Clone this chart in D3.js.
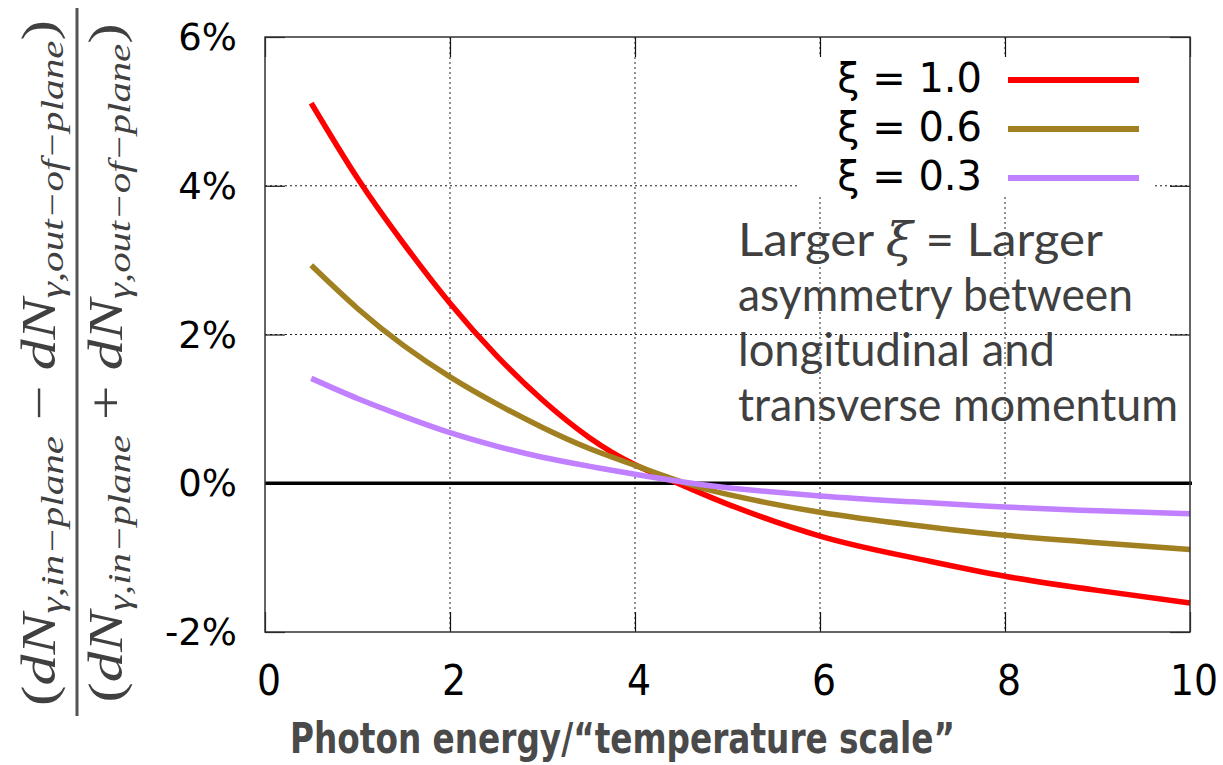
<!DOCTYPE html>
<html>
<head>
<meta charset="utf-8">
<script src="https://cdn.jsdelivr.net/npm/d3@7"></script>
<style>
  body { margin: 0; background: #fff; }
  svg { display: block; }
</style>
</head>
<body>
<div id="chart"></div>
<script>
// データ（図から読み取った値, %）
var energy = [0.5, 1, 1.5, 2, 2.5, 3, 3.5, 4, 4.5, 5, 6, 7, 8, 9, 10];
var xi10 = [5.11, 4.10, 3.22, 2.42, 1.72, 1.12, 0.62, 0.25, -0.02, -0.28, -0.71, -1.00, -1.25, -1.44, -1.61];
var xi06 = [2.93, 2.35, 1.85, 1.43, 1.07, 0.75, 0.47, 0.24, 0.02, -0.15, -0.39, -0.56, -0.70, -0.80, -0.89];
var xi03 = [1.41, 1.14, 0.90, 0.68, 0.50, 0.35, 0.23, 0.12, 0.02, -0.06, -0.17, -0.25, -0.32, -0.37, -0.41];

var seriesNames = ['ξ = 1.0', 'ξ = 0.6', 'ξ = 0.3'];
var seriesColors = ['#ff0000', '#a08020', '#c080ff'];
var seriesValues = [xi10, xi06, xi03];

var xTicks = [0, 2, 4, 6, 8, 10];
var yTicks = [-2, 0, 2, 4, 6];

var noteLines = ['Larger ', 'asymmetry between', 'longitudinal and', 'transverse momentum'];

// SVGの大きさ
var width = 1223;
var height = 765;
var margin = { top: 37, right: 33, bottom: 133, left: 265 };
var w = width - margin.left - margin.right;
var h = height - margin.top - margin.bottom;

var svg = d3.select('#chart').append('svg')
  .attr('width', width).attr('height', height);

var g = svg.append('g')
  .attr('transform', 'translate(' + margin.left + ',' + margin.top + ')');

// スケール
var xScale = d3.scaleLinear().domain([0, 10]).range([0, w]);
var yScale = d3.scaleLinear().domain([-2, 6]).range([h, 0]);

// グリッド線（点線）
var grid = g.append('g').attr('class', 'grid');
grid.selectAll('.vg').data(xTicks.filter(function(d) { return d > 0 && d < 10; }))
  .enter().append('line')
  .attr('x1', function(d) { return xScale(d); }).attr('x2', function(d) { return xScale(d); })
  .attr('y1', 0).attr('y2', h)
  .attr('stroke', '#222').attr('stroke-width', 1).attr('stroke-dasharray', '2,3');
grid.selectAll('.hg').data(yTicks.filter(function(d) { return d > -2 && d < 6 && d !== 0; }))
  .enter().append('line')
  .attr('y1', function(d) { return yScale(d); }).attr('y2', function(d) { return yScale(d); })
  .attr('x1', 0).attr('x2', w)
  .attr('stroke', '#222').attr('stroke-width', 1).attr('stroke-dasharray', '2,3');

// 凡例の背景（グリッドを隠す）
g.append('rect')
  .attr('x', 532).attr('y', 19).attr('width', 355).attr('height', 139)
  .attr('fill', '#fff');

// 軸（目盛りは内向き、上下左右）
var tickLen = 20;
var xAxisB = d3.axisBottom(xScale).tickValues(xTicks).tickSize(-tickLen).tickFormat('');
var xAxisT = d3.axisTop(xScale).tickValues(xTicks).tickSize(-tickLen).tickFormat('');
var yAxisL = d3.axisLeft(yScale).tickValues(yTicks).tickSize(-tickLen).tickFormat('');
var yAxisR = d3.axisRight(yScale).tickValues(yTicks).tickSize(-tickLen).tickFormat('');

g.append('g').attr('transform', 'translate(0,' + h + ')').call(xAxisB);
g.append('g').call(xAxisT);
g.append('g').call(yAxisL);
g.append('g').attr('transform', 'translate(' + w + ',0)').call(yAxisR);
g.selectAll('.domain').remove();
g.selectAll('.tick line').attr('stroke', '#111').attr('stroke-width', 1.2);

// 目盛りラベル
g.selectAll('.xlab').data(xTicks).enter().append('text')
  .attr('x', function(d) { return xScale(d) + 4; })
  .attr('y', h + 63)
  .attr('text-anchor', 'middle')
  .style('font-family', '"DejaVu Sans Condensed", "DejaVu Sans", sans-serif')
  .style('font-stretch', 'condensed')
  .style('font-size', '42px')
  .attr('fill', '#000')
  .text(function(d) { return d; });

g.selectAll('.ylab').data(yTicks).enter().append('text')
  .attr('x', -28)
  .attr('y', function(d) { return yScale(d) + 13; })
  .attr('text-anchor', 'end')
  .style('font-family', '"DejaVu Sans", sans-serif')
  .style('font-size', '37px')
  .attr('fill', '#000')
  .text(function(d) { return d + '%'; });

// ゼロ線
g.append('line')
  .attr('x1', 0).attr('x2', w + 2)
  .attr('y1', yScale(0)).attr('y2', yScale(0))
  .attr('stroke', '#000').attr('stroke-width', 3.5);

// ライン関数
var line = d3.line()
  .x(function(d, i) { return xScale(energy[i]); })
  .y(function(d) { return yScale(d); })
  .curve(d3.curveNatural);

// 注釈テキスト
var noteLengths = [365, 395, 317, 440];
var note = g.append('g').attr('fill', '#404040')
  .style('font-family', 'Lato, "Open Sans", sans-serif')
  .style('font-size', '46px');
noteLines.forEach(function(s, i) {
  var t = note.append('text')
    .attr('x', 473)
    .attr('y', 219 + i * 55)
    .attr('textLength', noteLengths[i])
    .attr('lengthAdjust', 'spacingAndGlyphs');
  if (i === 0) {
    t.append('tspan').text('Larger ');
    t.append('tspan').style('font-family', '"DejaVu Serif", serif').style('font-style', 'italic').text('ξ');
    t.append('tspan').text(' = Larger');
  } else {
    t.text(s);
  }
});

// 曲線
g.selectAll('.curve').data(seriesValues).enter().append('path')
  .attr('d', line)
  .attr('fill', 'none')
  .attr('stroke', function(d, i) { return seriesColors[i]; })
  .attr('stroke-width', 5.5);

// 枠
g.append('rect')
  .attr('x', 0).attr('y', 0).attr('width', w).attr('height', h)
  .attr('fill', 'none').attr('stroke', '#333').attr('stroke-width', 1.5);

// 凡例
var legend = g.append('g');
seriesNames.forEach(function(name, i) {
  var y = 41 + i * 49;
  legend.append('text')
    .attr('x', 717).attr('y', y + 14)
    .attr('text-anchor', 'end')
    .style('font-family', '"DejaVu Sans", sans-serif')
    .style('font-size', '40px')
    .attr('fill', '#000')
    .text(name);
  legend.append('line')
    .attr('x1', 743).attr('x2', 874)
    .attr('y1', y + 2).attr('y2', y + 2)
    .attr('stroke', seriesColors[i]).attr('stroke-width', 6);
});

// X軸タイトル
svg.append('text')
  .attr('x', 290).attr('y', 753)
  .attr('textLength', 665).attr('lengthAdjust', 'spacingAndGlyphs')
  .style('font-family', '"DejaVu Sans Condensed", "DejaVu Sans", sans-serif')
  .style('font-stretch', 'condensed')
  .style('font-weight', 'bold')
  .style('font-size', '42px')
  .attr('fill', '#4a4a4a')
  .text('Photon energy/“temperature scale”');

// Y軸タイトル（分数）
var ylab = svg.append('g').attr('fill', '#404040')
  .style('font-family', '"Liberation Serif", "DejaVu Serif", serif')
  .style('font-style', 'italic');

function fracPart(x, len, op) {
  var t = ylab.append('text')
    .attr('transform', 'translate(' + x + ',363) rotate(-90)')
    .attr('text-anchor', 'middle')
    .attr('textLength', len).attr('lengthAdjust', 'spacingAndGlyphs')
    .style('font-size', '48px');
  t.append('tspan').style('font-style', 'normal').text('(');
  t.append('tspan').text('dN');
  t.append('tspan').attr('baseline-shift', '-8').style('font-size', '32px').text('γ,in−plane');
  t.append('tspan').style('font-style', 'normal').text(' ' + op + ' ');
  t.append('tspan').text('dN');
  t.append('tspan').attr('baseline-shift', '-8').style('font-size', '32px').text('γ,out−of−plane');
  t.append('tspan').style('font-style', 'normal').text(')');
}
fracPart(55, 686, '−');
fracPart(122, 679, '+');

svg.append('line')
  .attr('x1', 77).attr('x2', 77)
  .attr('y1', 8).attr('y2', 716)
  .attr('stroke', '#555').attr('stroke-width', 3);
</script>
</body>
</html>
